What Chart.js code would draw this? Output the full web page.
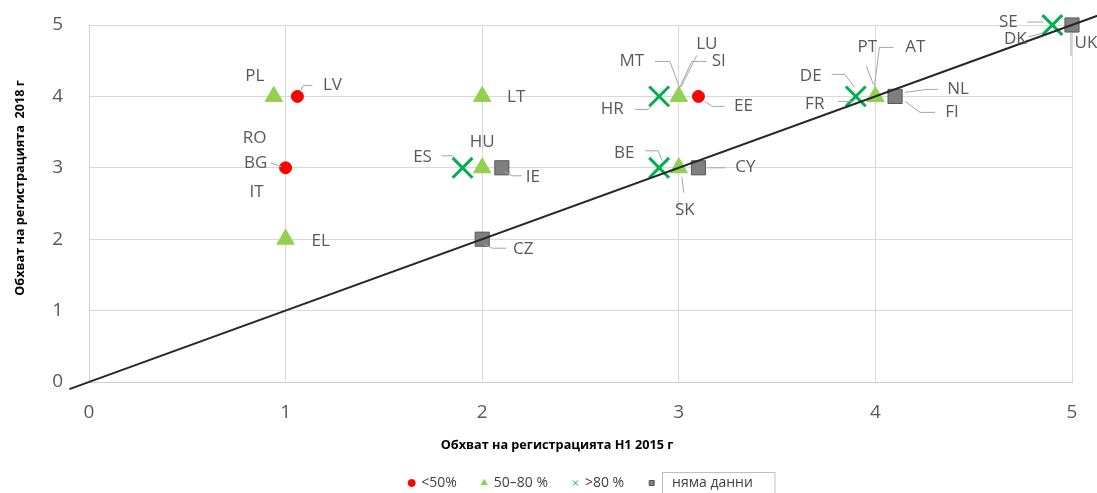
<!DOCTYPE html>
<html>
<head>
  <meta charset="utf-8">
  <title>Обхват на регистрацията</title>
  <script src="https://cdn.jsdelivr.net/npm/chart.js@4/dist/chart.umd.min.js"></script>
  <style>
    html, body { margin: 0; padding: 0; background: #fff; }
    canvas { display: block; }
  </style>
</head>
<body>
  <canvas id="myChart" width="1097" height="493"></canvas>
  <script>
    // данни
    var countries    = ['PL', 'LV', 'RO', 'BG', 'IT', 'EL', 'LT', 'HU', 'ES', 'IE', 'CZ', 'HR', 'MT', 'LU', 'SI', 'EE', 'BE', 'SK', 'CY', 'DE', 'FR', 'PT', 'AT', 'NL', 'FI', 'SE', 'DK', 'UK'];
    var coverage2015 = [0.94, 1.06, 1, 1, 1, 1, 2, 2, 1.9, 2.1, 2, 2.9, 3, 3, 3, 3.1, 2.9, 3, 3.1, 3.9, 3.9, 4, 4, 4.1, 4.1, 4.9, 4.9, 5];
    var coverage2018 = [4, 4, 3, 3, 3, 2, 4, 3, 3, 3, 2, 4, 4, 4, 4, 4, 3, 3, 3, 4, 4, 4, 4, 4, 4, 5, 5, 5];
    var coverageGroup = [1, 0, 0, 0, 0, 1, 1, 1, 2, 3, 3, 2, 1, 1, 1, 0, 2, 1, 3, 2, 2, 1, 1, 3, 3, 2, 2, 3];
    var groupNames = ['<50%', '50–80 %', '>80 %', '   няма данни'];
    var diagonal = [-0.1, 5.2];

    // стил на маркерите
    var groupStyle = [
      { pointStyle: 'circle',   pointRadius: 6,  backgroundColor: '#FF0000', borderColor: '#FF0000', borderWidth: 1 },
      { pointStyle: 'triangle', pointRadius: 10, backgroundColor: '#92D050', borderColor: '#92D050', borderWidth: 1 },
      { pointStyle: 'crossRot', pointRadius: 14, backgroundColor: '#00B050', borderColor: '#00B050', borderWidth: 3 },
      { pointStyle: 'rect',     pointRadius: 10, backgroundColor: '#7F7F7F', borderColor: '#595959', borderWidth: 1 }
    ];

    // позиция на етикета спрямо маркера: [dx, dy, линия]
    var labelPos = {
      PL: [-19, -20],
      LV: [35, -11, [[3, -5], [6, -11], [15, -11]]],
      RO: [-31, -30],
      BG: [-30, -5, [[-15, -5], [-4, -1]]],
      IT: [-29, 24],
      EL: [35, 2],
      LT: [34, 1],
      HU: [0, -26],
      ES: [-40, -11, [[-21, -12], [-10, -12], [-2, -4]]],
      IE: [31, 9, [[3, 4], [10, 8], [20, 8]]],
      CZ: [41, 10, [[2, 5], [10, 9], [24, 9]]],
      HR: [-47, 13, [[-24, 13], [-11, 13], [-5, 7]]],
      MT: [-47, -35, [[-24, -35], [-9, -35], [1, -8]]],
      LU: [28, -52, [[2, -9], [18, -41]]],
      SI: [40, -35, [[1, -9], [13, -35], [28, -35]]],
      EE: [45, 10, [[6, 5], [14, 10], [26, 10]]],
      BE: [-35, -15, [[-14, -17], [-1, -17], [3, -7]]],
      SK: [6, 42, [[3, 9], [5, 25]]],
      CY: [47, -1, [[9, 0], [27, 0]]],
      DE: [-45, -20, [[-24, -22], [-11, -22], [-1, -9]]],
      FR: [-41, 8, [[-18, 5], [-4, 5]]],
      PT: [-8, -49, [[-9, -30], [-2, -12]]],
      AT: [40, -49, [[-1, -10], [4, -49], [18, -49]]],
      NL: [63, -7, [[10, -4], [32, -7], [43, -7]]],
      FI: [57, 16, [[10, 5], [25, 16], [40, 16]]],
      SE: [-44, -3, [[-25, -3], [-9, -3]]],
      DK: [-37, 14, [[-24, 12], [-9, 8]]],
      UK: [14, 18, [[-1, 7], [-1, 31]]]
    };

    // набори от данни
    var datasets = [{
      label: 'diagonal',
      data: diagonal.map(function(v) { return { x: v, y: v }; }),
      showLine: true,
      borderColor: '#262626',
      borderWidth: 2,
      pointRadius: 0,
      clip: false
    }];
    groupNames.forEach(function(name, g) {
      var seen = {};
      var pts = [];
      for (var i = 0; i < countries.length; i++) {
        if (coverageGroup[i] != g) continue;
        var key = coverage2015[i] + '_' + coverage2018[i];
        if (seen[key]) continue;
        seen[key] = true;
        pts.push({ x: coverage2015[i], y: coverage2018[i] });
      }
      datasets.push(Object.assign({ label: name, data: pts, clip: false }, groupStyle[g]));
    });

    // етикети на държавите
    var countryLabels = {
      id: 'countryLabels',
      afterDatasetsDraw: function(chart) {
        var ctx = chart.ctx, xs = chart.scales.x, ys = chart.scales.y;
        ctx.save();
        ctx.font = '17px "Open Sans"';
        ctx.fillStyle = '#595959';
        ctx.strokeStyle = '#A6A6A6';
        ctx.lineWidth = 1;
        ctx.textAlign = 'center';
        ctx.textBaseline = 'middle';
        for (var i = 0; i < countries.length; i++) {
          var pos = labelPos[countries[i]];
          var px = xs.getPixelForValue(coverage2015[i]);
          var py = ys.getPixelForValue(coverage2018[i]);
          if (pos[2]) {
            ctx.beginPath();
            pos[2].forEach(function(p, k) {
              if (k) ctx.lineTo(px + p[0], py + p[1]);
              else ctx.moveTo(px + p[0], py + p[1]);
            });
            ctx.stroke();
          }
          ctx.fillText(countries[i], px + pos[0], py + pos[1]);
        }
        ctx.restore();
      }
    };

    // легендата е малко вдясно от центъра
    var legendShift = {
      id: 'legendShift',
      afterLayout: function(chart) {
        var lg = chart.legend;
        var shift = 581 - (lg.left + lg.right) / 2;
        lg.left += shift;
        lg.right += shift;
        lg.legendHitBoxes.forEach(function(h) { h.left += shift; });
      }
    };

    // заглавия на осите и рамка в легендата
    var axisTitles = {
      id: 'axisTitles',
      afterDraw: function(chart) {
        var ctx = chart.ctx, area = chart.chartArea;
        ctx.save();
        ctx.font = 'bold 12.7px "Open Sans"';
        ctx.fillStyle = '#000000';
        ctx.textAlign = 'center';
        ctx.textBaseline = 'middle';
        ctx.fillText('Обхват на регистрацията Н1 2015 г', area.left + 468, area.bottom + 63);
        ctx.translate(20, area.top + 163);
        ctx.rotate(-Math.PI / 2);
        ctx.fillText('Обхват на регистрацията  2018 г', 0, 0);
        ctx.restore();

        var hb = chart.legend.legendHitBoxes[3];
        if (hb) {
          ctx.save();
          ctx.strokeStyle = '#BFBFBF';
          ctx.lineWidth = 1;
          var bx = Math.round(hb.left + 12.5) + 0.5;
          ctx.strokeRect(bx, 472.5, Math.round(hb.left + hb.width + 22) - bx, 22);
          ctx.restore();
        }
      }
    };

    var tickFont = { family: 'Open Sans', size: 19 };

    var ctx = document.getElementById('myChart').getContext('2d');
    var myChart = new Chart(ctx, {
      type: 'scatter',
      data: { datasets: datasets },
      plugins: [countryLabels, legendShift, axisTitles],
      options: {
        responsive: false,
        animation: false,
        events: [],
        layout: { autoPadding: false, padding: { left: 40, right: 25, top: 25, bottom: 0 } },
        scales: {
          x: {
            type: 'linear',
            min: 0,
            max: 5,
            ticks: { stepSize: 1, color: '#595959', font: tickFont, padding: 19 },
            grid: { color: '#D9D9D9', drawTicks: false },
            border: { color: '#D0D0D0' },
            afterFit: function(scale) { scale.height = 69; }
          },
          y: {
            type: 'linear',
            min: 0,
            max: 5,
            ticks: { stepSize: 1, color: '#595959', font: tickFont, padding: 26 },
            grid: { color: '#D9D9D9', drawTicks: false },
            border: { color: '#D0D0D0' },
            afterFit: function(scale) {
              scale.width = 49;
              scale.paddingTop = 0;
              scale.paddingBottom = 0;
            }
          }
        },
        plugins: {
          tooltip: { enabled: false },
          legend: {
            position: 'bottom',
            maxHeight: 42,
            labels: {
              usePointStyle: true,
              boxWidth: 5,
              boxHeight: 5,
              padding: 25,
              color: '#404040',
              font: { family: 'Open Sans', size: 14 },
              filter: function(item) { return item.datasetIndex > 0; },
              generateLabels: function(chart) {
                var items = Chart.defaults.plugins.legend.labels.generateLabels(chart);
                items.forEach(function(it) { it.lineWidth = 1; });
                return items;
              }
            }
          }
        }
      }
    });
  </script>
</body>
</html>
